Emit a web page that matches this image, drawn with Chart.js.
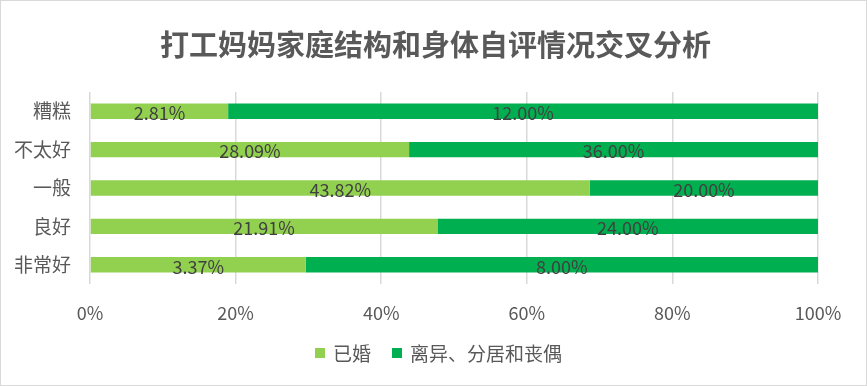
<!DOCTYPE html>
<html><head><meta charset="utf-8">
<script src="https://cdn.jsdelivr.net/npm/chart.js@4"></script>
<style>
html,body{margin:0;padding:0;background:#fff;}
#wrap{width:867px;height:386px;box-sizing:border-box;border:1px solid #d9d9d9;position:relative;}
canvas{display:block;}
</style></head><body>
<div id="wrap"><canvas id="c" width="865" height="384"></canvas></div>
<script>
const categories = ['糟糕','不太好','一般','良好','非常好'];
const seriesNames = ['已婚','离异、分居和丧偶'];
const married = [2.81, 28.09, 43.82, 21.91, 3.37];
const divorced = [12.00, 36.00, 20.00, 24.00, 8.00];
const xTicks = [0,20,40,60,80,100];
const colors = ['#92d050','#00b050'];
const titleText = '打工妈妈家庭结构和身体自评情况交叉分析';

const totals = married.map((v,i)=>v+divorced[i]);
const raw = [married, divorced];
const font = "'Noto Sans CJK SC','Microsoft YaHei',sans-serif";

const labelPlugin = {
  id:'segLabels',
  afterDatasetsDraw(chart){
    const ctx = chart.ctx;
    ctx.save();
    ctx.font = '18px ' + font;
    ctx.fillStyle = '#404040';
    ctx.textAlign = 'center';
    ctx.textBaseline = 'middle';
    chart.data.datasets.forEach((ds,di)=>{
      const meta = chart.getDatasetMeta(di);
      meta.data.forEach((bar,i)=>{
        const cx = (bar.x + bar.base)/2;
        ctx.fillText(raw[di][i].toFixed(2)+'%', cx, bar.y+2);
      });
    });
    ctx.restore();
  },
  afterDraw(chart){
    const ctx = chart.ctx;
    ctx.save();
    // title
    ctx.font = 'bold 29px ' + font;
    ctx.fillStyle = '#595959';
    ctx.textAlign = 'center';
    ctx.textBaseline = 'middle';
    ctx.fillText(titleText, 434.5, 44);
    // legend
    ctx.font = '19px ' + font;
    ctx.textAlign = 'left';
    const box = 10, gapText = 8, gapItem = 21;
    const widths = chart.data.datasets.map(d=>ctx.measureText(d.label).width);
    let total = 0;
    widths.forEach((w,i)=>{ total += box + gapText + w + (i<widths.length-1?gapItem:0); });
    let x = 437.5 - total/2;
    const y = 352;
    chart.data.datasets.forEach((d,i)=>{
      ctx.fillStyle = d.backgroundColor;
      ctx.fillRect(x, y-5, box, box);
      ctx.fillStyle = '#595959';
      ctx.fillText(d.label, x+box+gapText, y+1);
      x += box + gapText + widths[i] + gapItem;
    });
    ctx.restore();
  }
};

new Chart(document.getElementById('c'),{
  type:'bar',
  data:{
    labels:categories,
    datasets:[
      {label:seriesNames[0], data:married.map((v,i)=>v/totals[i]*100), backgroundColor:colors[0]},
      {label:seriesNames[1], data:divorced.map((v,i)=>v/totals[i]*100), backgroundColor:colors[1]}
    ]
  },
  options:{
    indexAxis:'y',
    responsive:false,
    animation:false,
    layout:{padding:{left:0,right:48,top:91,bottom:51}},
    datasets:{bar:{barPercentage:0.4,categoryPercentage:1}},
    scales:{
      x:{stacked:true,min:0,max:100,
        afterBuildTicks(s){s.ticks = xTicks.map(v=>({value:v}));},
        ticks:{callback:v=>v+'%',color:'#595959',font:{size:18,family:font},padding:18},
        grid:{color:'#d9d9d9',lineWidth:1.5,drawTicks:false},
        border:{display:false},
        afterFit(s){s.height=50;}
      },
      y:{stacked:true,
        ticks:{color:'#595959',font:{size:19,family:font},padding:11},
        grid:{display:false},
        border:{display:false},
        afterFit(s){s.width=89;}
      }
    },
    plugins:{
      title:{display:false},
      legend:{display:false},
      tooltip:{enabled:false}
    }
  },
  plugins:[labelPlugin]
});
</script></body></html>
